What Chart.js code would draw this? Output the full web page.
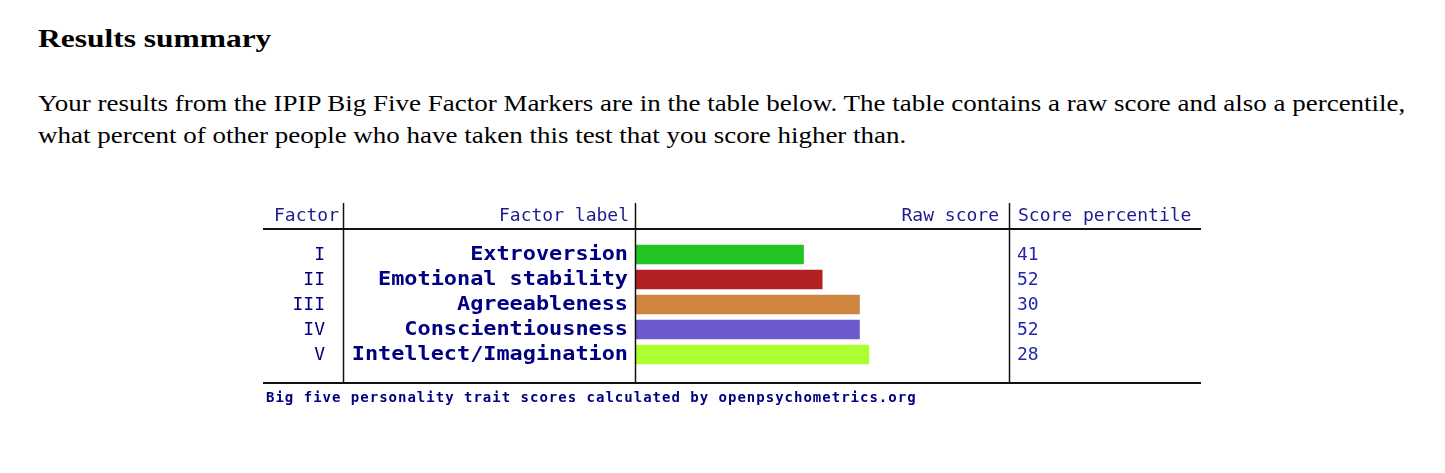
<!DOCTYPE html>
<html>
<head>
<meta charset="utf-8">
<script src="https://cdn.jsdelivr.net/npm/chart.js@4.4.1/dist/chart.umd.min.js"></script>
<style>
  body { margin: 0; background: #fff; font-family: "Liberation Serif", "Times New Roman", serif; color: #000; }
  h2 { position: absolute; left: 38px; top: 24px; margin: 0; font-size: 26px; font-weight: bold;
       white-space: nowrap; transform: scaleX(1.21); transform-origin: 0 0; }
  p { position: absolute; left: 38px; top: 88px; margin: 0; font-size: 23px; line-height: 32px;
      white-space: nowrap; transform: scaleX(1.173); transform-origin: 0 0; }
  #wrap { position: absolute; left: 263px; top: 195px; width: 940px; height: 220px; }
</style>
</head>
<body>
<h2>Results summary</h2>
<p>Your results from the IPIP Big Five Factor Markers are in the table below. The table contains a raw score and also a percentile,<br>what percent of other people who have taken this test that you score higher than.</p>
<div id="wrap"><canvas id="myChart" width="940" height="220"></canvas></div>
<script>
// table data
const factors = ['I', 'II', 'III', 'IV', 'V'];
const labels = ['Extroversion', 'Emotional stability', 'Agreeableness', 'Conscientiousness', 'Intellect/Imagination'];
const rawScores = [18, 20, 24, 24, 25];
const percentiles = [41, 52, 30, 52, 28];
const barColors = ['#22c322', '#b22222', '#cd853f', '#6a5acd', '#adff2f'];
const rawMax = 40;

const mono = '"DejaVu Sans Mono", monospace';
const navy = '#000080';

// text drawn a bit wider than the font, like the original bitmap
function wideText(ctx, text, x, y, sx) {
  ctx.save();
  ctx.translate(x, y);
  ctx.scale(sx, 1);
  ctx.fillText(text, 0, 0);
  ctx.restore();
}

// draws the table lines, headers and text columns around the bars
const tablePlugin = {
  id: 'tableText',
  afterDraw(chart) {
    const ctx = chart.ctx;
    const area = chart.chartArea;
    const yScale = chart.scales.y;
    const w = chart.width;

    ctx.save();
    ctx.strokeStyle = '#111';
    ctx.lineWidth = 2;
    ctx.beginPath();
    ctx.moveTo(0, 34); ctx.lineTo(w - 2, 34);
    ctx.moveTo(0, 188); ctx.lineTo(w - 2, 188);
    ctx.stroke();

    ctx.lineWidth = 1.5;
    ctx.beginPath();
    [80.5, area.left - 0.5, area.right + 0.5].forEach(x => {
      ctx.moveTo(x, 8); ctx.lineTo(x, 188);
    });
    ctx.stroke();

    // headers
    ctx.textBaseline = 'middle';
    ctx.fillStyle = '#1c1c90';
    ctx.font = '18px ' + mono;
    ctx.textAlign = 'right';
    ctx.fillText('Factor', 76, 21);
    ctx.fillText('Factor label', area.left - 7, 21);
    ctx.fillText('Raw score', area.right - 10, 21);
    ctx.textAlign = 'left';
    ctx.fillText('Score percentile', area.right + 9, 21);

    labels.forEach((lab, i) => {
      const y = yScale.getPixelForValue(i) + 1;
      ctx.fillStyle = navy;
      ctx.textAlign = 'right';
      ctx.font = '18px ' + mono;
      ctx.fillText(factors[i], 62, y);
      ctx.font = 'bold 19px ' + mono;
      wideText(ctx, lab, area.left - 8, y, 1.15);
      ctx.textAlign = 'left';
      ctx.fillStyle = '#2626a6';
      ctx.font = '18px ' + mono;
      ctx.fillText(String(percentiles[i]), area.right + 8, y);
    });

    // footer
    ctx.fillStyle = navy;
    ctx.font = 'bold 14px ' + mono;
    ctx.letterSpacing = '1px';
    ctx.textAlign = 'left';
    ctx.fillText('Big five personality trait scores calculated by openpsychometrics.org', 3, 203);
    ctx.restore();
  }
};

new Chart(document.getElementById('myChart').getContext('2d'), {
  type: 'bar',
  data: {
    labels: labels,
    datasets: [{
      data: rawScores,
      backgroundColor: barColors,
      borderWidth: 0,
      barPercentage: 0.78,
      categoryPercentage: 1
    }]
  },
  options: {
    indexAxis: 'y',
    responsive: false,
    animation: false,
    devicePixelRatio: 1,
    layout: { padding: { left: 373, right: 194, top: 47, bottom: 48 } },
    scales: {
      x: { display: false, min: 0, max: rawMax },
      y: { display: false }
    },
    plugins: {
      legend: { display: false },
      tooltip: { enabled: false }
    }
  },
  plugins: [tablePlugin]
});
</script>
</body>
</html>
